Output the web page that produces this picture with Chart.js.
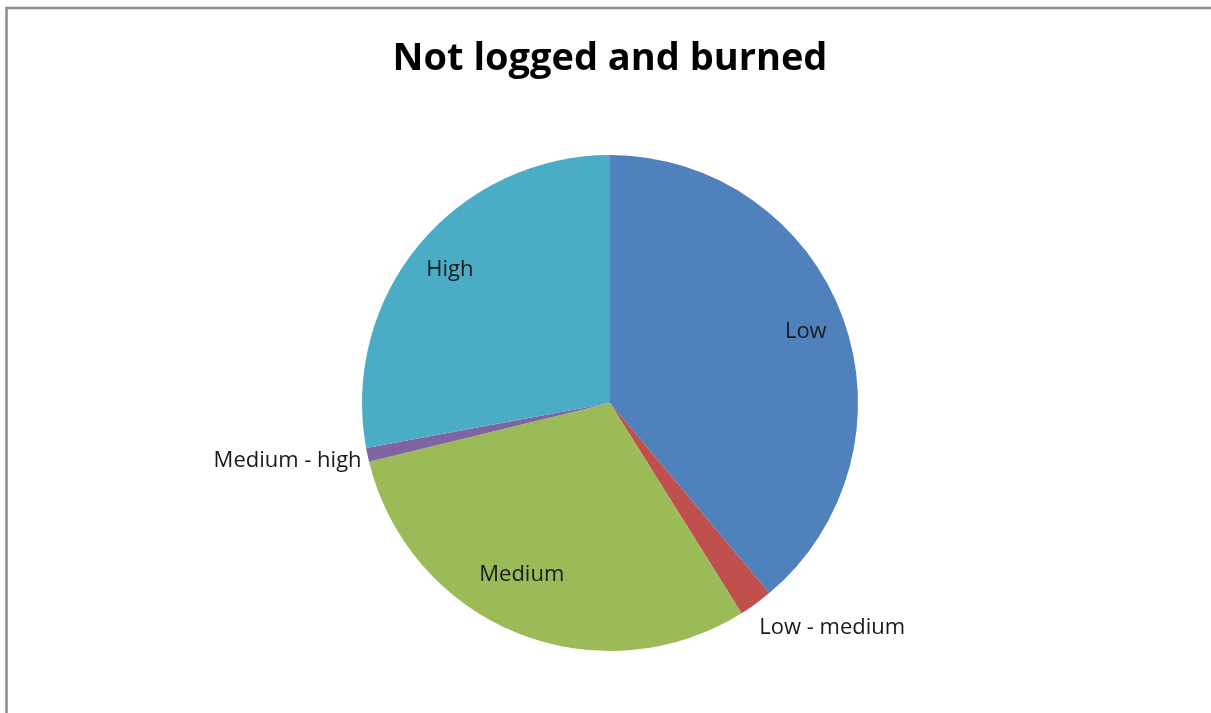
<!DOCTYPE html>
<html>
<head>
<meta charset="utf-8">
<title>Not logged and burned</title>
<script src="https://cdn.jsdelivr.net/npm/chart.js@4/dist/chart.umd.min.js"></script>
<style>
  html, body { margin: 0; padding: 0; background: #fff; }
  #wrap { position: relative; width: 1211px; height: 713px; }
</style>
</head>
<body>
<div id="wrap"><canvas id="piechart" width="1211" height="713"></canvas></div>
<script>
const chartTitle = "Not logged and burned";
const categories = ["Low", "Low - medium", "Medium", "Medium - high", "High"];
const shares = [38.9, 2.2, 30.1, 0.9, 27.9];
const sliceColors = ["#4f81bd", "#c0504d", "#9bbb59", "#8064a2", "#4bacc6"];

// where each label goes: fraction of radius inside, or "out" for outside end
const labelPlace = [
  { r: 0.84, shift: 0 },
  { r: "out", shift: 0 },
  { r: 0.78, shift: 5 },
  { r: "out", shift: 0 },
  { r: 0.84, shift: 0 }
];

const labelFont = "22px 'Open Sans'";

const framePlugin = {
  id: "frame",
  beforeDraw(chart) {
    const c = chart.ctx;
    c.save();
    c.fillStyle = "#fff";
    c.fillRect(0, 0, chart.width, chart.height);
    c.strokeStyle = "#8c8c8c";
    c.lineWidth = 2.5;
    c.strokeRect(6.5, 8, 1400, 900);
    c.restore();
  }
};

const sliceLabels = {
  id: "sliceLabels",
  afterDatasetsDraw(chart) {
    const c = chart.ctx;
    const arcs = chart.getDatasetMeta(0).data;
    c.save();
    c.font = labelFont;
    c.fillStyle = "#1a1a1a";
    arcs.forEach((arc, i) => {
      const p = labelPlace[i];
      const mid = (arc.startAngle + arc.endAngle) / 2 + p.shift * Math.PI / 180;
      if (p.r === "out") {
        const rr = arc.outerRadius + 6;
        const x = arc.x + Math.cos(mid) * rr;
        const y = arc.y + Math.sin(mid) * rr + 24 * Math.sin(mid);
        c.textAlign = Math.cos(mid) >= 0 ? "left" : "right";
        c.textBaseline = "middle";
        c.fillText(categories[i], x, y);
      } else {
        const rr = arc.outerRadius * p.r;
        c.textAlign = "center";
        c.textBaseline = "middle";
        c.fillText(categories[i], arc.x + Math.cos(mid) * rr, arc.y + Math.sin(mid) * rr);
      }
    });
    c.restore();
  }
};

new Chart(document.getElementById("piechart").getContext("2d"), {
  type: "pie",
  data: {
    labels: categories,
    datasets: [{
      data: shares,
      backgroundColor: sliceColors,
      borderWidth: 0,
      hoverOffset: 0,
      offset: 0
    }]
  },
  options: {
    responsive: false,
    animation: false,
    layout: { padding: { top: 36, bottom: 62, left: 362, right: 353 } },
    plugins: {
      legend: { display: false },
      tooltip: { enabled: false },
      title: {
        display: true,
        text: chartTitle,
        color: "#000",
        font: { family: "Open Sans", size: 38, weight: "bold", lineHeight: 1.2 },
        padding: { top: 0, bottom: 73.4 }
      }
    }
  },
  plugins: [framePlugin, sliceLabels]
});
</script>
</body>
</html>
